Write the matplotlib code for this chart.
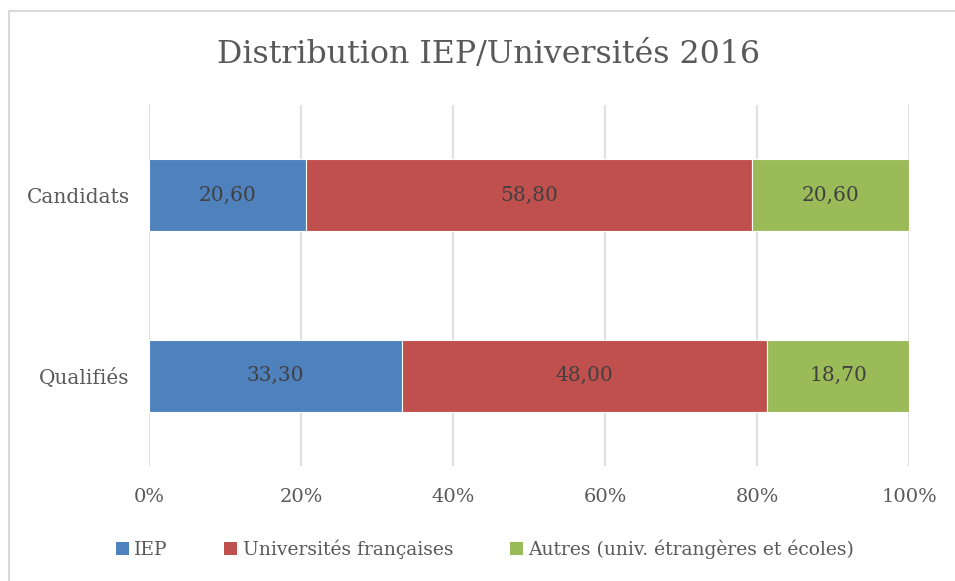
import matplotlib.pyplot as plt
from matplotlib.lines import Line2D
from matplotlib.patches import Patch

categories = ['Qualifiés', 'Candidats']
series_names = ['IEP', 'Universités françaises', 'Autres (univ. étrangères et écoles)']
iep = [33.30, 20.60]
univ = [48.00, 58.80]
autres = [18.70, 20.60]
tick_labels = ['0%', '20%', '40%', '60%', '80%', '100%']

colors = ['#4F81BD', '#C0504D', '#9BBB59']
text_grey = '#595959'

plt.rcParams['font.family'] = ['DejaVu Serif']

fig = plt.figure(figsize=(9.55, 5.81), dpi=100)
ax = fig.add_axes([149 / 955, 1 - 466 / 581, 760 / 955, 361 / 581])

# figure frame (top and left edges visible)
fig.add_artist(Line2D([9 / 955, 9 / 955], [0, 1 - 11 / 581], color='#d9d9d9', lw=1.5))
fig.add_artist(Line2D([9 / 955, 1], [1 - 11 / 581, 1 - 11 / 581], color='#d9d9d9', lw=1.5))

y = range(len(categories))
left = [0, 0]
totals = [a + b + d for a, b, d in zip(iep, univ, autres)]
for vals, c in zip([iep, univ, autres], colors):
    widths = [v / t * 100 for v, t in zip(vals, totals)]
    bars = ax.barh(y, widths, left=left, height=0.4, color=c, edgecolor='white', linewidth=0.8, zorder=3)
    for b, v in zip(bars, vals):
        ax.text(b.get_x() + b.get_width() / 2, b.get_y() + b.get_height() / 2,
                f'{v:.2f}'.replace('.', ','), ha='center', va='center',
                fontsize=14.5, color='#404040', zorder=4)
    left = [l + w for l, w in zip(left, widths)]

ax.set_xlim(0, 100)
ax.set_ylim(-0.5, 1.5)
ax.set_xticks([0, 20, 40, 60, 80, 100])
ax.set_xticklabels(tick_labels, fontsize=14, color=text_grey)
ax.set_yticks(list(y))
ax.set_yticklabels(categories, fontsize=14.5, color=text_grey)
ax.tick_params(length=0)
ax.tick_params(axis='x', pad=16)
ax.tick_params(axis='y', pad=14)
ax.grid(axis='x', color='#d9d9d9', lw=1.2, zorder=0)
for s in ax.spines.values():
    s.set_visible(False)

fig.text(489 / 955, 1 - 55 / 581, 'Distribution IEP/Universités 2016', ha='center', va='center',
         fontsize=22.8, color=text_grey)

handles = [Patch(facecolor=c) for c in colors]
fig.legend(handles, series_names, loc='center', bbox_to_anchor=(485 / 955, 1 - 549 / 581),
           ncol=3, frameon=False, fontsize=13.5, labelcolor=text_grey,
           handlelength=0.7, handleheight=0.7, handletextpad=0.3, columnspacing=3.0)

plt.savefig('out.png', dpi=100)
